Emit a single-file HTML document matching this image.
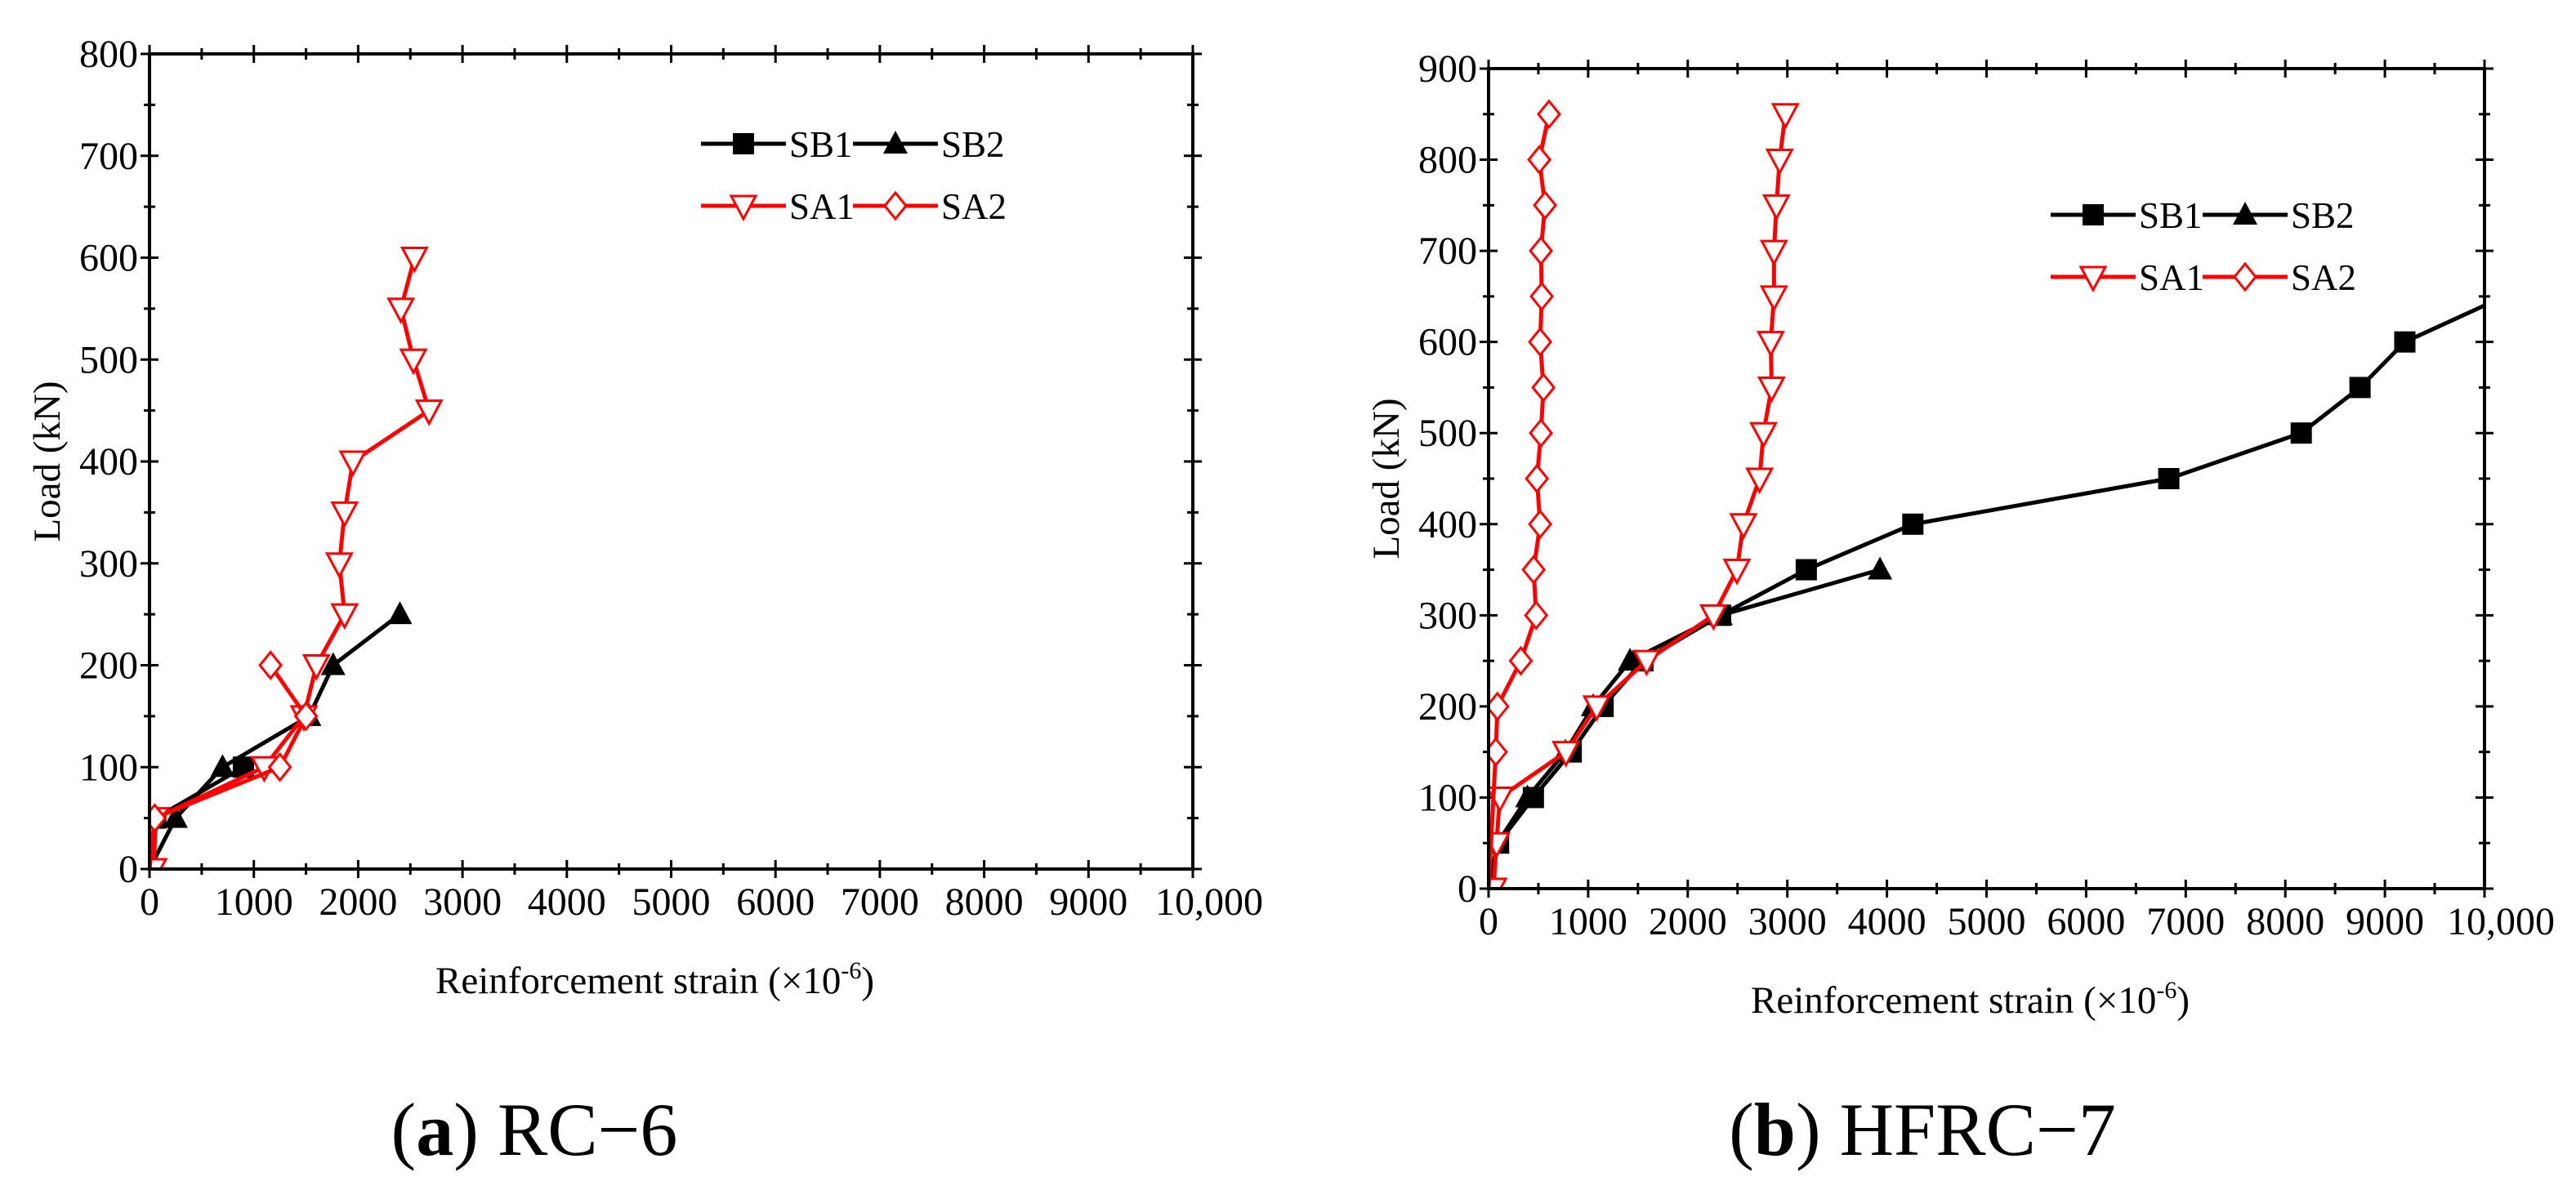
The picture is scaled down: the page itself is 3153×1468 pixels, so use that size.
<!DOCTYPE html>
<html><head><meta charset="utf-8"><style>
html,body{margin:0;padding:0;background:#fff;}
svg{display:block;font-family:"Liberation Serif",serif;}
</style></head><body>
<svg id="fig" width="3153" height="1468" viewBox="0 0 3153 1468" xmlns="http://www.w3.org/2000/svg">
<text x="654" y="1414" font-size="92" text-anchor="middle">(<tspan font-weight="bold">a</tspan>) RC−6</text>
<text x="2353" y="1414" font-size="92" text-anchor="middle">(<tspan font-weight="bold">b</tspan>) HFRC−7</text>
</svg>
<script>
// ---- Chart A data (RC-6) ----
const aSB1 = [[0,0],[60,50],[900,100]];
const aSB2 = [[0,0],[250,50],[700,100],[1530,150],[1760,200],[2400,250]];
const aSA1 = [[40,0],[60,50],[1100,100],[1480,150],[1600,200],[1870,250],[1820,300],[1870,350],[1950,400],[2680,450],[2530,500],[2410,550],[2540,600]];
const aSA2 = [[0,0],[50,50],[1250,100],[1500,150],[1160,200]];
const aYTicks = [0,100,200,300,400,500,600,700,800];
// ---- Chart B data (HFRC-7) ----
const bSB1 = [[0,0],[100,50],[450,100],[830,150],[1150,200],[1550,250],[2330,300],[3190,350],[4260,400],[6830,450],[8160,500],[8750,550],[9200,600],[10000,640]];
const bSB2 = [[0,0],[90,50],[390,100],[770,150],[1050,200],[1420,250],[2330,300],[3930,350]];
const bSA1 = [[0,0],[50,0],[80,50],[113,100],[777,150],[1085,200],[1587,250],[2259,300],[2494,350],[2559,400],[2721,450],[2761,500],[2842,550],[2834,600],[2866,650],[2866,700],[2891,750],[2923,800],[2980,850]];
const bSA2 = [[0,0],[73,150],[89,200],[324,250],[478,300],[453,350],[518,400],[486,450],[526,500],[551,550],[518,600],[534,650],[526,700],[567,750],[510,800],[607,850]];
const bYTicks = [0,100,200,300,400,500,600,700,800,900];
const xTicks = [0,1000,2000,3000,4000,5000,6000,7000,8000,9000,10000];
const xLabels = ["0","1000","2000","3000","4000","5000","6000","7000","8000","9000","10,000"];

const NS="http://www.w3.org/2000/svg";
const svg=document.getElementById('fig');
function mk(tag,attrs,parent){const e=document.createElementNS(NS,tag);for(const k in attrs)e.setAttribute(k,attrs[k]);(parent||svg).appendChild(e);return e;}

function marker(g,type,x,y,color){
  const s=13;let e;
  if(type==='square'){e=mk('rect',{x:x-s,y:y-s,width:2*s,height:2*s,fill:'#000'},g);}
  else if(type==='tri'){e=mk('polygon',{points:`${x},${y-s-3} ${x-s-2},${y+s-1} ${x+s+2},${y+s-1}`,fill:'#000'},g);}
  else if(type==='dtri'){e=mk('polygon',{points:`${x},${y+s+3} ${x-s-2},${y-s+1} ${x+s+2},${y-s+1}`,fill:'#fff',stroke:color,'stroke-width':3},g);}
  else {e=mk('polygon',{points:`${x},${y-s-3} ${x+s},${y} ${x},${y+s+3} ${x-s},${y}`,fill:'#fff',stroke:color,'stroke-width':3},g);}
  
  
}

function chart(id,L,R,T,B,ymax,yTicks,series,legend){
  const g=mk('g',{});
  
  
  const sx=v=>L+(v/10000)*(R-L), sy=v=>B-(v/ymax)*(B-T);
  for(let v=0;v<=10000;v+=500){const maj=v%1000===0,t=maj?11:7;const x=sx(v);
    mk('line',{x1:x,y1:B-t,x2:x,y2:B+t,stroke:'#000','stroke-width':3},g);
    mk('line',{x1:x,y1:T-t,x2:x,y2:T+t,stroke:'#000','stroke-width':3},g);}
  for(let v=0;v<=ymax;v+=50){const maj=v%100===0,t=maj?11:7;const y=sy(v);
    mk('line',{x1:L-t,y1:y,x2:L+t,y2:y,stroke:'#000','stroke-width':3},g);
    mk('line',{x1:R-t,y1:y,x2:R+t,y2:y,stroke:'#000','stroke-width':3},g);}
  xTicks.forEach((v,i)=>{const t=mk('text',{x:sx(v)+(i===10?20:0),y:B+56,'font-size':48,'text-anchor':'middle'},g);t.textContent=xLabels[i];
    
    });
  yTicks.forEach(v=>{const t=mk('text',{x:L-14,y:sy(v)+16,'font-size':48,'text-anchor':'end'},g);t.textContent=v;
    
    });
  const xt=mk('text',{x:(L+R)/2-20,y:B+152,'font-size':47,'text-anchor':'middle'},g);
  xt.innerHTML='Reinforcement strain (×10<tspan dy="-18" font-size="30">-6</tspan><tspan dy="18">)</tspan>';
  
  
  const yt=mk('text',{x:0,y:0,'font-size':47,'text-anchor':'middle',transform:`translate(${L-110},${(T+B)/2}) rotate(-90)`},g);
  yt.textContent='Load (kN)';
  
  
  const cp=mk('clipPath',{id:id+'-clip'},g);mk('rect',{x:L,y:T,width:R-L,height:B-T},cp);
  series.forEach(s=>{
    const sg=mk('g',{'clip-path':`url(#${id}-clip)`},g);
    
    
    const p=mk('polyline',{points:s.data.map(d=>sx(d[0])+','+sy(d[1])).join(' '),fill:'none',stroke:s.color,'stroke-width':5,'stroke-linejoin':'round'},sg);
    
    
    s.data.forEach(d=>{ if(d[0]===0&&d[1]===0) return; if(d[0]>=10000) return; marker(sg,s.m,sx(d[0]),sy(d[1]),s.color);});
  });
  const fr=mk('rect',{x:L,y:T,width:R-L,height:B-T,fill:'none',stroke:'#000','stroke-width':4},g);
  
  
  const lg=mk('g',{},g);
  
  
  series.forEach((s,i)=>{
    const col=i%2,row=Math.floor(i/2);
    const x0=legend.x+col*legend.dx,y=legend.y+row*legend.dy;
    const e=mk('g',{},lg);
    
    
    mk('line',{x1:x0,y1:y,x2:x0+104,y2:y,stroke:s.color,'stroke-width':5},e);
    marker(e,s.m,x0+52,y,s.color);
    const t=mk('text',{x:x0+108,y:y+16,'font-size':45},e);t.textContent=s.name;
  });
}

chart('chart-rc6',183,1460,66,1064,800,aYTicks,[
  {name:'SB1',data:aSB1,color:'#000',m:'square'},
  {name:'SB2',data:aSB2,color:'#000',m:'tri'},
  {name:'SA1',data:aSA1,color:'#f00',m:'dtri'},
  {name:'SA2',data:aSA2,color:'#f00',m:'diamond'}],
  {x:858,y:176,dx:186,dy:76});
chart('chart-hfrc7',1822,3041,84,1088,900,bYTicks,[
  {name:'SB1',data:bSB1,color:'#000',m:'square'},
  {name:'SB2',data:bSB2,color:'#000',m:'tri'},
  {name:'SA1',data:bSA1,color:'#f00',m:'dtri'},
  {name:'SA2',data:bSA2,color:'#f00',m:'diamond'}],
  {x:2510,y:263,dx:186,dy:76});
</script>
</body></html>
